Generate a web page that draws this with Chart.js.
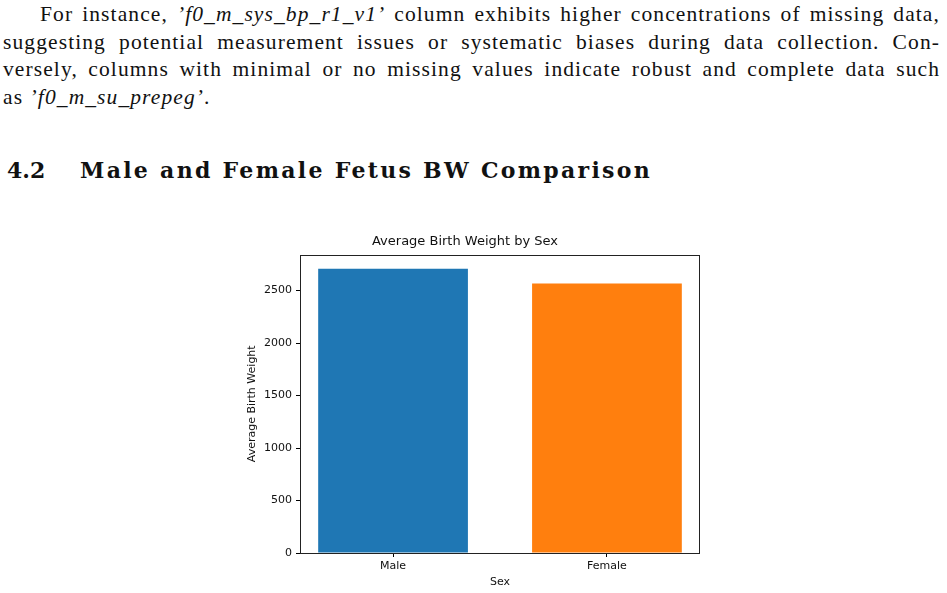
<!DOCTYPE html>
<html>
<head>
<meta charset="utf-8">
<script src="https://cdn.jsdelivr.net/npm/chart.js@4"></script>
<style>
  body { margin: 0; background: #fff; width: 947px; height: 593px; overflow: hidden; position: relative; }
  .para { position: absolute; left: 3px; top: 1px; width: 937px; font-family: "Liberation Serif", serif; font-size: 21.5px; line-height: 27.5px; letter-spacing: 1.1px; color: #111; }
  .para div { text-align: justify; text-align-last: justify; white-space: nowrap; }
  .para div.last { text-align-last: left; }
  .para div.first { padding-left: 37px; }
  h2 { position: absolute; left: 7px; top: 155px; margin: 0; font-family: "DejaVu Serif", serif; font-size: 22px; line-height: 30px; font-weight: bold; color: #111; white-space: nowrap; }
  h2 .num { display: inline-block; width: 73px; }
  h2 #titulo { letter-spacing: 2.3px; }
  #wrap { position: absolute; left: 230px; top: 225px; width: 480px; height: 368px; }
</style>
</head>
<body>
<div class="para">
  <div class="first">For instance, <i>’f0_m_sys_bp_r1_v1’</i> column exhibits higher concentrations of missing data,</div>
  <div>suggesting potential measurement issues or systematic biases during data collection. Con-</div>
  <div>versely, columns with minimal or no missing values indicate robust and complete data such</div>
  <div class="last">as <i>’f0_m_su_prepeg’</i>.</div>
</div>
<h2><span class="num">4.2</span><span id="titulo">Male and Female Fetus BW Comparison</span></h2>
<div id="wrap"><canvas id="chart"></canvas></div>
<script>
let sexes = ['Male', 'Female'];
let pesos = [2707, 2567];
let cores = ['#1f77b4', '#ff7f0e'];
let yTicks = [0, 500, 1000, 1500, 2000, 2500];

// caixa em volta da area do grafico (como no matplotlib)
const caixa = {
    id: 'caixa',
    afterDraw(chart) {
        const a = chart.chartArea;
        const ctx = chart.ctx;
        ctx.save();
        ctx.strokeStyle = '#222';
        ctx.lineWidth = 1;
        ctx.strokeRect(Math.round(a.left) + 0.5, Math.round(a.top) + 0.5, Math.round(a.right - a.left) - 1, Math.round(a.bottom - a.top));
        ctx.restore();
    }
};

let pontos = sexes.map((s, i) => ({ x: i, y: pesos[i] }));

var ctx = document.getElementById('chart').getContext('2d');
var myChart = new Chart(ctx, {
    type: 'bar',
    data: {
        datasets: [{
            data: pontos,
            backgroundColor: cores,
            borderWidth: 0,
            barPercentage: 0.7,
            categoryPercentage: 1
        }]
    },
    options: {
        responsive: true,
        maintainAspectRatio: false,
        animation: false,
        layout: { padding: { left: 0, right: 10, top: 0, bottom: 0 } },
        plugins: {
            legend: { display: false },
            tooltip: { enabled: false },
            title: {
                display: true,
                text: 'Average Birth Weight by Sex',
                color: '#111',
                font: { family: 'DejaVu Sans', size: 13, weight: 'normal' },
                padding: { top: 9, bottom: 5 }
            }
        },
        scales: {
            x: {
                type: 'linear',
                min: -0.435,
                max: 1.435,
                offset: false,
                afterBuildTicks: scale => { scale.ticks = sexes.map((s, i) => ({ value: i })); },
                afterFit: scale => { scale.height = 40; },
                border: { display: false },
                grid: { offset: false, drawOnChartArea: false, drawTicks: true, tickLength: 4, color: '#000' },
                ticks: {
                    color: '#111',
                    padding: 3,
                    font: { family: 'DejaVu Sans', size: 11 },
                    maxRotation: 0,
                    callback: v => sexes[v]
                },
                title: {
                    display: true,
                    text: 'Sex',
                    color: '#111',
                    font: { family: 'DejaVu Sans', size: 11 },
                    padding: { top: 0, bottom: 4 }
                }
            },
            y: {
                min: 0,
                max: 2843,
                afterBuildTicks: scale => { scale.ticks = yTicks.map(v => ({ value: v })); },
                afterFit: scale => { scale.width = 70; },
                border: { display: false },
                grid: { drawOnChartArea: false, drawTicks: true, tickLength: 4, color: '#000' },
                ticks: {
                    color: '#111',
                    padding: 4,
                    font: { family: 'DejaVu Sans', size: 11 },
                    callback: v => String(v)
                },
                title: {
                    display: true,
                    text: 'Average Birth Weight',
                    color: '#111',
                    font: { family: 'DejaVu Sans', size: 11 },
                    padding: { top: 16, bottom: 0 }
                }
            }
        }
    },
    plugins: [caixa]
});
</script>
</body>
</html>
